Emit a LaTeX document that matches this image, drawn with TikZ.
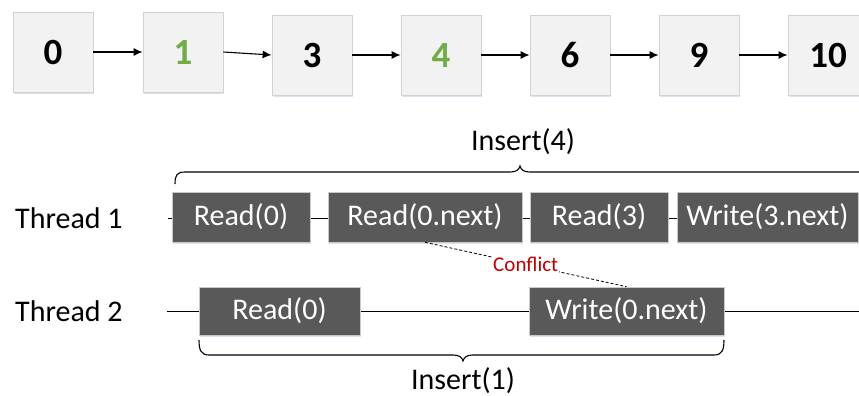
\documentclass[tikz,border=0pt]{standalone}
\usepackage{fontspec}
\setmainfont{Carlito}
\usetikzlibrary{shadows,arrows.meta,calc}
\definecolor{grn}{HTML}{70AD47}
\definecolor{opfill}{HTML}{595959}
\definecolor{opedge}{HTML}{C9C9C9}
\definecolor{nodefill}{HTML}{F2F2F2}
\definecolor{nodeedge}{HTML}{D2D2D2}
\definecolor{shade}{HTML}{C9D8EC}
\definecolor{confl}{HTML}{C00000}
\begin{document}
\begin{tikzpicture}[x=1pt,y=-1pt,
  listnode/.style={draw=nodeedge,fill=nodefill,line width=0.8pt,minimum width=80pt,minimum height=80pt,inner sep=0pt,
    font=\fontsize{37}{40}\selectfont\bfseries,
    drop shadow={shadow xshift=1pt,shadow yshift=-1.5pt,fill=shade,opacity=0.7}},
  opbox/.style={draw=opedge,fill=opfill,line width=0.6pt,minimum height=50pt,inner sep=0pt,text=white,
    font=\fontsize{30}{34}\selectfont,
    drop shadow={shadow xshift=1pt,shadow yshift=-1.5pt,fill=shade,opacity=0.7}},
  lbl/.style={font=\fontsize{30}{34}\selectfont,inner sep=0pt},
  link/.style={line width=1.1pt,-{Latex[length=9pt,width=8pt]}},
  timeline/.style={line width=0.9pt},
  bracepath/.style={line width=1.1pt},
  confline/.style={line width=0.8pt,dash pattern=on 3pt off 2pt}
]
\useasboundingbox (0,0) rectangle (859,396);

% linked list
\node[listnode] (n0) at (53,52) {0};
\node[listnode,text=grn] (n1) at (183,52) {1};
\node[listnode] (n3) at (312,55) {3};
\node[listnode,text=grn] (n4) at (441,55) {4};
\node[listnode] (n6) at (570,55) {6};
\node[listnode] (n9) at (699,55) {9};
\node[listnode] (n10) at (828,55) {10};
\draw[link] (n0.east) -- (n1.west);
\draw[link] (n1.east) -- (n3.west);
\draw[link] (n3) -- (n4);
\draw[link] (n4) -- (n6);
\draw[link] (n6) -- (n9);
\draw[link] (n9) -- (n10);

% thread labels
\node[lbl,anchor=west] (th1) at (15,218) {Thread 1};
\node[lbl,anchor=west] (th2) at (15,311) {Thread 2};

% timelines
\coordinate (t1s) at (168,218);
\coordinate (t1e) at (859,218);
\coordinate (t2s) at (167,311);
\coordinate (t2e) at (859,311);
\draw[timeline] (t1s) -- (t1e);
\draw[timeline] (t2s) -- (t2e);

% thread 1 ops
\node[opbox,minimum width=138pt] (a1) at (241,217) {Read(0)};
\node[opbox,minimum width=194pt] (a2) at (425,217) {Read(0.next)};
\node[opbox,minimum width=138pt] (a3) at (599,217) {Read(3)};
\node[opbox,minimum width=181pt] (a4) at (767.5,217) {Write(3.next)};

% thread 2 ops
\node[opbox,minimum width=161pt,minimum height=48pt] (b1) at (279.5,311) {Read(0)};
\node[opbox,minimum width=195pt,minimum height=48pt] (b2) at (626.5,311) {Write(0.next)};

% conflict
\draw[confline] (a2.south) -- node[fill=white,inner sep=1pt,text=confl,font=\fontsize{21}{24}\selectfont] (cf) {Conflict} (b2.north);

% top brace
\draw[bracepath] (175,184) .. controls (175,175) and (177,172) .. (185,172)
  -- (510,172) .. controls (516,172) and (519,170) .. (520,166)
  .. controls (521,170) and (524,172) .. (530,172) -- (875,172);
\node[lbl] (ins4) at (523,142) {Insert(4)};

% bottom brace
\draw[bracepath] (199,340) .. controls (199,350) and (201,355) .. (209,355)
  -- (453,355) .. controls (459,355) and (462,357) .. (463,361)
  .. controls (464,357) and (467,355) .. (473,355)
  -- (714,355) .. controls (722,355) and (724,350) .. (724,340);
\node[lbl] (ins1) at (463,381) {Insert(1)};
\end{tikzpicture}
\end{document}
